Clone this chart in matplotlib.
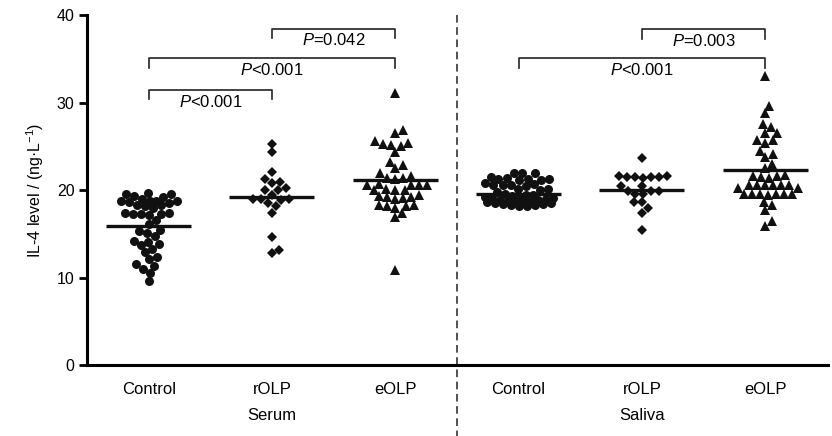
import matplotlib
matplotlib.use("Agg")
import matplotlib.pyplot as plt
import numpy as np

plt.rcParams['font.family'] = ['Liberation Sans', 'DejaVu Sans']
plt.rcParams['mathtext.fontset'] = 'custom'
plt.rcParams['mathtext.rm'] = 'Liberation Sans'
plt.rcParams['mathtext.it'] = 'Liberation Sans:italic'

# values (ng/L)
serum_control = [19.7, 19.6, 19.5, 19.3, 19.2, 19.0, 18.8, 18.8, 18.7, 18.7, 18.6,
                 18.5, 18.3, 18.3, 18.2, 18.0, 17.4, 17.3, 17.2, 17.3, 17.3, 17.4,
                 16.6, 16.1, 15.4, 15.1, 15.3, 14.7, 14.1, 13.7, 13.8, 14.2, 13.3,
                 12.9, 12.3, 12.1, 11.3, 11.0, 11.5, 10.5, 9.6]
serum_rolp = [25.3, 24.3, 22.1, 21.3, 20.9, 20.8, 20.2, 20.0, 20.0, 19.4, 19.0,
              19.0, 18.9, 19.0, 18.5, 18.2, 17.4, 14.6, 13.2, 12.8]
serum_eolp = [31.1, 26.9, 26.5, 25.4, 25.1, 25.6, 25.0, 25.3, 24.3, 23.2, 22.9,
              22.5, 21.9, 21.6, 21.3, 21.4, 21.4, 20.6, 20.6, 20.6, 20.6, 20.7,
              20.0, 20.0, 20.0, 20.1, 19.2, 19.3, 19.2, 19.4, 19.1, 19.0, 18.2,
              18.3, 18.2, 18.3, 18.0, 17.4, 16.9, 10.9]
saliva_control = [21.9, 21.9, 21.9, 21.5, 21.4, 21.3, 21.3, 21.2, 21.3, 21.2,
                  20.7, 20.6, 20.8, 20.6, 20.5, 20.6, 20.1, 20.0, 20.1, 19.8,
                  19.5, 19.4, 19.4, 19.3, 19.2, 19.2, 19.1, 19.1, 19.0, 18.9,
                  18.9, 18.8, 18.8, 18.7, 18.6, 18.6, 18.5, 18.5, 18.4, 18.4,
                  18.3, 18.3, 18.2, 18.2]
saliva_rolp = [23.7, 21.6, 21.5, 21.5, 21.4, 21.5, 21.5, 21.6, 20.5, 20.5, 19.9,
               19.9, 19.9, 19.5, 19.5, 18.6, 18.6, 18.0, 17.4, 15.4]
saliva_eolp = [33.0, 29.6, 28.8, 27.6, 27.2, 26.5, 26.5, 25.7, 25.7, 25.4, 24.5,
               23.8, 24.1, 23.0, 22.5, 21.6, 21.6, 21.7, 21.5, 21.4, 20.6, 20.6,
               20.6, 20.6, 20.6, 20.6, 20.2, 20.2, 19.5, 19.5, 19.4, 19.5, 19.5,
               19.5, 19.6, 18.6, 18.3, 17.7, 16.5, 15.9]

groups = [serum_control, serum_rolp, serum_eolp, saliva_control, saliva_rolp, saliva_eolp]
means = [15.9, 19.2, 21.2, 19.6, 20.0, 22.3]
markers = ['o', 'D', '^', 'o', 'D', '^']
msizes = [6.5, 5.5, 7, 6.5, 5.5, 7]
tick_labels = ['Control', 'rOLP', 'eOLP', 'Control', 'rOLP', 'eOLP']
sample_labels = ['Serum', 'Saliva']

# (group a, group b, bracket height, text)
comparisons = [(1, 2, 31.4, '$P$<0.001'),
               (1, 3, 35.05, '$P$<0.001'),
               (2, 3, 38.45, '$P$=0.042'),
               (4, 6, 35.05, '$P$<0.001'),
               (5, 6, 38.35, '$P$=0.003')]


def swarm_offsets(values, x_px, y_px, dist_px=8.0, half_px=34):
    # beeswarm with a width limit: free spot nearest the centre,
    # otherwise the spot that overlaps least (as Prism packs crowded rows)
    vals = np.asarray(values, dtype=float)
    order = np.argsort(vals)
    placed = []
    offs = np.zeros(len(vals))
    steps = np.arange(0.5, half_px + 0.01, 0.5)
    cands = np.concatenate([[0], np.ravel(np.column_stack([steps, -steps]))])
    for i in order:
        yv = vals[i] * y_px
        best, best_d = 0.0, -1.0
        for c in cands:
            d = min([np.hypot(c - px, yv - py) for px, py in placed] or [1e9])
            if d >= dist_px:
                best = c
                break
            if d > best_d + 0.3:
                best, best_d = c, d
        placed.append((best, yv))
        offs[i] = best / x_px
    return offs


W, H = 832, 436
fig = plt.figure(figsize=(W / 100, H / 100), dpi=100)
ax = fig.add_axes([87 / W, 71 / H, (828 - 87) / W, 350 / H])
xmin, xmax = 0.5, 6.51
ymin, ymax = 0, 40
ax.set_xlim(xmin, xmax)
ax.set_ylim(ymin, ymax)

x_px = (828 - 87) / (xmax - xmin)
y_px = 350 / (ymax - ymin)

for i, vals in enumerate(groups):
    pos = i + 1
    offs = swarm_offsets(vals, x_px, y_px)
    ax.plot(pos + offs, vals, linestyle='None', marker=markers[i], markersize=msizes[i],
            color='#111111', markeredgewidth=0, clip_on=False, zorder=3)
    ax.plot([pos - 0.345, pos + 0.345], [means[i], means[i]], color='#111111', lw=2.4,
            solid_capstyle='butt', zorder=4)

for a, b, h, txt in comparisons:
    ax.plot([a, a, b, b], [h - 1.05, h, h, h - 1.05], color='#222222', lw=1.2, zorder=2)
    ax.text((a + b) / 2, h - 0.4, txt, ha='center', va='top', fontsize=12)

ax.plot([3.5, 3.5], [40, -8.2], color='#222222', lw=1.1, linestyle=(0, (5, 3)),
        clip_on=False)

ax.spines['top'].set_visible(False)
ax.spines['right'].set_visible(False)
ax.spines['left'].set_linewidth(2.2)
ax.spines['bottom'].set_linewidth(2.2)
ax.spines['left'].set_bounds(0, 40)

ax.set_yticks([0, 10, 20, 30, 40])
ax.tick_params(axis='y', length=6, width=2, labelsize=11.5, pad=3)
ax.set_xticks(range(1, 7))
ax.set_xticklabels(tick_labels)
ax.tick_params(axis='x', length=0, labelsize=12, pad=12)

for k, lab in enumerate(sample_labels):
    ax.text(2 + 3 * k, -5.8, lab, ha='center', va='center', fontsize=12, clip_on=False)

ax.set_ylabel('IL-4 level / (ng·L$^{-1}$)', fontsize=11.5, labelpad=8)

fig.savefig('out.png', dpi=100)
